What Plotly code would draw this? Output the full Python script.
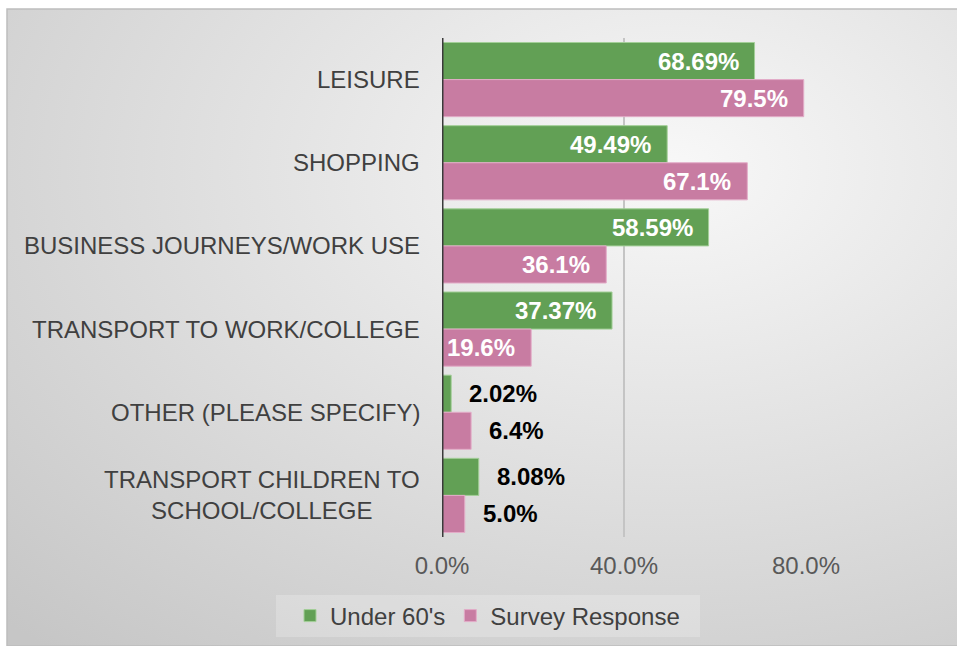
import base64
import plotly.graph_objects as go

# Reasons for car use, share of respondents (%)
categories = [
    "LEISURE",
    "SHOPPING",
    "BUSINESS JOURNEYS/WORK USE",
    "TRANSPORT TO WORK/COLLEGE",
    "OTHER (PLEASE SPECIFY)",
    "TRANSPORT CHILDREN TO<br>SCHOOL/COLLEGE",
]
under_60s = [68.69, 49.49, 58.59, 37.37, 2.02, 8.08]
survey_response = [79.5, 67.1, 36.1, 19.6, 6.4, 5.0]
x_ticks = [0, 40, 80]

GREEN = "#62a055"
PINK = "#c87ca2"
FONT = "Liberation Sans, Arial"

W, H = 957, 646
M_L, M_R, M_T, M_B = 442, 151, 38, 109
PW, PH = W - M_L - M_R, H - M_T - M_B


def px_x(px):
    return (px - M_L) / PW


def px_y(py):
    return 1 - (py - M_T) / PH


fig = go.Figure()
fig.add_trace(go.Bar(
    name="Under 60's", y=categories, x=under_60s, orientation="h",
    marker=dict(color=GREEN, line=dict(color="#a3cf98", width=1)),
))
fig.add_trace(go.Bar(
    name="Survey Response", y=categories, x=survey_response, orientation="h",
    marker=dict(color=PINK, line=dict(color="#e3acc8", width=1)),
))

bargap = 0.108
# distance in px from a category centre to the centre of each of its two bars
bar_offset = PH / len(categories) * (1 - bargap) / 4

annotations = []
# category labels, centred multi-line text to the left of the axis
for cat in categories:
    annotations.append(dict(
        x=0, y=cat, xref="x", yref="y", text=cat, showarrow=False,
        xanchor="right", yanchor="middle", align="center", xshift=-20,
        font=dict(family=FONT, size=24, color="#404040"),
    ))

# value labels: inside the bar end for long bars, just past it for short ones
for series, fmt, shift in ((under_60s, "{:.2f}%", bar_offset), (survey_response, "{:.1f}%", -bar_offset)):
    for cat, v in zip(categories, series):
        inside = v > 15
        annotations.append(dict(
            x=v, y=cat, xref="x", yref="y", text=fmt.format(v), showarrow=False,
            xanchor="right" if inside else "left", yanchor="middle",
            xshift=-14 if inside else 16, yshift=shift,
            font=dict(family=FONT, size=24, weight="bold",
                      color="#ffffff" if inside else "#000000"),
        ))

# soft radial background
svg = (
    '<svg xmlns="http://www.w3.org/2000/svg" width="950" height="637" viewBox="0 0 950 637" preserveAspectRatio="none">'
    '<defs><radialGradient id="g" cx="0.7" cy="0.25" r="1.0" gradientUnits="objectBoundingBox">'
    '<stop offset="0" stop-color="#f8f8f8"/><stop offset="1" stop-color="#c6c6c6"/>'
    '</radialGradient></defs><rect width="950" height="637" fill="url(#g)"/></svg>'
)
bg_src = "data:image/svg+xml;base64," + base64.b64encode(svg.encode()).decode()

fig.update_layout(
    width=W, height=H,
    margin=dict(l=M_L, r=M_R, t=M_T, b=M_B, autoexpand=False),
    paper_bgcolor="#ffffff", plot_bgcolor="rgba(0,0,0,0)",
    barmode="group", bargap=bargap, bargroupgap=0,
    font=dict(family=FONT, size=24, color="#404040"),
    images=[dict(
        source=bg_src, xref="paper", yref="paper",
        x=px_x(7), y=px_y(9), sizex=px_x(957) - px_x(7), sizey=px_y(9) - px_y(646),
        xanchor="left", yanchor="top", sizing="stretch", layer="below",
    )],
    shapes=[
        dict(type="rect", xref="paper", yref="paper",
             x0=px_x(7), x1=px_x(958), y0=px_y(646), y1=px_y(9),
             line=dict(color="#bdbdbd", width=1.5), fillcolor="rgba(0,0,0,0)", layer="below"),
        dict(type="rect", xref="paper", yref="paper",
             x0=px_x(276), x1=px_x(700), y0=px_y(637), y1=px_y(595),
             line=dict(width=0), fillcolor="rgba(255,255,255,0.22)", layer="below"),
        # value axis baseline at 0 %
        dict(type="line", xref="x", yref="paper", x0=0, x1=0, y0=0, y1=1,
             line=dict(color="#3a3a3a", width=3), layer="above"),
    ],
    annotations=annotations,
    xaxis=dict(
        range=[0, 80], tickvals=x_ticks, ticktext=[f"{t:.1f}%" for t in x_ticks],
        showgrid=True, gridcolor="#c4c4c4", gridwidth=1.5, zeroline=False,
        showline=False, ticks="", ticklabelstandoff=12,
        tickfont=dict(family=FONT, size=24, color="#595959"),
        fixedrange=True,
    ),
    yaxis=dict(
        categoryorder="array", categoryarray=categories, autorange="reversed",
        showticklabels=False, showgrid=False, zeroline=False,
        showline=False, ticks="",
    ),
    legend=dict(
        orientation="h", x=px_x(290), xanchor="left", y=px_y(616), yanchor="middle",
        bgcolor="rgba(0,0,0,0)", font=dict(size=24, color="#404040"),
        traceorder="normal", itemwidth=30,
    ),
)

fig.write_html("out.html")
